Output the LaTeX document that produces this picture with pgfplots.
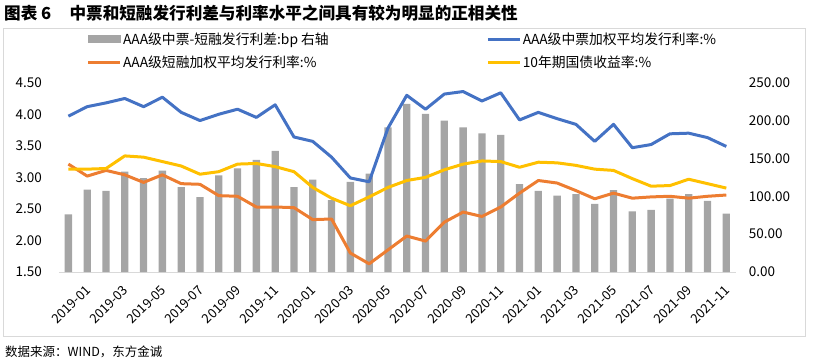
\documentclass[border=0pt]{standalone}
\usepackage{fontspec}
\setmainfont{Noto Sans CJK SC}
\usepackage{pgfplots}
\pgfplotsset{compat=1.18}
\definecolor{cblue}{HTML}{4472C4}
\definecolor{corange}{HTML}{ED7D31}
\definecolor{cgray}{HTML}{A5A5A5}
\definecolor{cyellow}{HTML}{FFC000}
\definecolor{cframe}{HTML}{D9D9D9}
\newcommand{\tickfont}{\fontsize{13.5bp}{15bp}\selectfont}
\pgfplotsset{
  legend image code/.code={\draw[#1] (0bp,0bp) -- (32bp,0bp);},
  common/.style={
    at={(59bp,-272bp)}, anchor=south west,
    scale only axis, width=676.7bp, height=189.3bp,
    xmin=-0.5, xmax=35.5,
    tick style={draw=none}, major tick length=0pt,
    /pgf/number format/.cd, fixed, fixed zerofill, precision=2, assume math mode=true,
  },
}
\begin{document}
\begin{tikzpicture}
\path[use as bounding box] (0,0) rectangle (819bp,-362bp);
\draw[cframe, line width=0.75bp] (3.5bp,-28bp) rectangle (805bp,-336bp);
\node[anchor=west, font=\fontsize{16.6bp}{18bp}\selectfont\bfseries, inner sep=0pt] at (4bp,-13bp) {图表 6\hspace{1.1em}中票和短融发行利差与利率水平之间具有较为明显的正相关性};
\node[anchor=west, font=\fontsize{12.5bp}{14bp}\selectfont, inner sep=0pt] at (5bp,-352bp) {数据来源：WIND，东方金诚};

\begin{axis}[common,
  ymin=0, ymax=250,
  axis y line*=right, axis x line*=bottom,
  axis line style={-},
  x axis line style={cframe, line width=1bp},
  y axis line style={draw=none},
  ytick={0,50,...,250},
  yticklabel style={anchor=west, inner sep=0pt, xshift=13bp, font=\tickfont},
  xtick={0,2,...,34},
  xticklabels={2019-01,2019-03,2019-05,2019-07,2019-09,2019-11,2020-01,2020-03,2020-05,2020-07,2020-09,2020-11,2021-01,2021-03,2021-05,2021-07,2021-09,2021-11},
  xticklabel style={rotate=45, anchor=north east, inner sep=0pt, xshift=3bp, yshift=-20bp, font=\fontsize{13bp}{15bp}\selectfont},
]
\addplot[ybar, bar width=7.3bp, fill=cgray, draw=none] coordinates {
(0,76) (1,108.7) (2,107) (3,132.5) (4,124) (5,134) (6,112) (7,99) (8,127.6) (9,137) (10,148) (11,160)
(12,112) (13,122) (14,95) (15,119) (16,130) (17,191) (18,222) (19,209) (20,200) (21,191) (22,183) (23,181)
(24,116) (25,107) (26,101) (27,103) (28,90) (29,108) (30,80) (31,82) (32,97) (33,103) (34,94) (35,77)
};
\end{axis}

\begin{axis}[common,
  ymin=1.5, ymax=4.5,
  axis y line*=left, hide x axis,
  axis line style={-},
  y axis line style={draw=none},
  ytick={1.5,2,...,4.5},
  yticklabel style={anchor=east, inner sep=0pt, xshift=-17bp, font=\tickfont},
  legend columns=2,
  legend cell align=left,
  legend style={at={(0.0406,1.274)}, anchor=north west, draw=none, fill=none, inner sep=0pt,
    font=\fontsize{13.8bp}{15bp}\selectfont, row sep=7bp,
    nodes={inner sep=1.5bp},
    /tikz/every even column/.append style={column sep=156bp}},
]
\addlegendimage{legend image code/.code={\fill[cgray] (0bp,-3.5bp) rectangle (32bp,3.5bp);}}
\addlegendentry{AAA级中票-短融发行利差:bp 右轴}
\addplot[cblue, line width=3bp, line join=round] coordinates {
(0,3.97) (1,4.12) (2,4.18) (3,4.25) (4,4.12) (5,4.27) (6,4.03) (7,3.90) (8,4.00) (9,4.08) (10,3.95) (11,4.15)
(12,3.64) (13,3.57) (14,3.32) (15,2.99) (16,2.93) (17,3.78) (18,4.30) (19,4.08) (20,4.32) (21,4.36) (22,4.21) (23,4.34)
(24,3.91) (25,4.03) (26,3.93) (27,3.84) (28,3.57) (29,3.84) (30,3.47) (31,3.52) (32,3.69) (33,3.70) (34,3.63) (35,3.49)
};
\addlegendentry{AAA级中票加权平均发行利率:\%}
\addplot[corange, line width=3bp, line join=round] coordinates {
(0,3.21) (1,3.02) (2,3.11) (3,3.04) (4,2.92) (5,3.04) (6,2.90) (7,2.89) (8,2.71) (9,2.70) (10,2.53) (11,2.53)
(12,2.52) (13,2.33) (14,2.34) (15,1.80) (16,1.63) (17,1.85) (18,2.07) (19,1.99) (20,2.29) (21,2.45) (22,2.38) (23,2.53)
(24,2.75) (25,2.95) (26,2.91) (27,2.79) (28,2.66) (29,2.75) (30,2.67) (31,2.69) (32,2.70) (33,2.67) (34,2.70) (35,2.72)
};
\addlegendentry{AAA级短融加权平均发行利率:\%}
\addplot[cyellow, line width=3bp, line join=round] coordinates {
(0,3.13) (1,3.13) (2,3.14) (3,3.34) (4,3.32) (5,3.25) (6,3.18) (7,3.05) (8,3.09) (9,3.21) (10,3.22) (11,3.17)
(12,3.09) (13,2.84) (14,2.67) (15,2.55) (16,2.69) (17,2.84) (18,2.95) (19,3.00) (20,3.12) (21,3.21) (22,3.26) (23,3.25)
(24,3.16) (25,3.24) (26,3.23) (27,3.19) (28,3.13) (29,3.11) (30,2.98) (31,2.86) (32,2.87) (33,2.97) (34,2.90) (35,2.83)
};
\addlegendentry{10年期国债收益率:\%}
\end{axis}
\end{tikzpicture}
\end{document}
